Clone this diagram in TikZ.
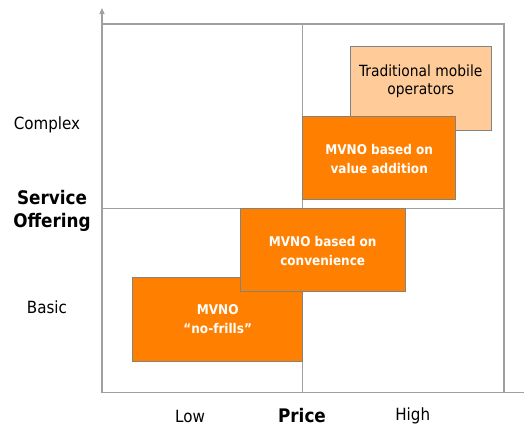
\documentclass[tikz,border=0pt]{standalone}
\usepackage{fontspec}
\setmainfont{DejaVu Sans Condensed}
\usetikzlibrary{arrows.meta}
\definecolor{gridgray}{RGB}{160,160,160}
\definecolor{boxgray}{RGB}{130,130,130}
\definecolor{dark}{RGB}{255,128,0}
\definecolor{light}{RGB}{255,204,153}
\begin{document}
\begin{tikzpicture}[x=1bp,y=-1bp,
  gridline/.style={draw=gridgray,line width=1.3bp},
  seg/.style={draw=boxgray,line width=0.9bp,inner sep=0pt,outer sep=0pt},
  darkbox/.style={seg,fill=dark},
  lightbox/.style={seg,fill=light},
  boxtext/.style={align=center,font=\fontsize{13.4bp}{18.3bp}\selectfont\bfseries},
  axlabel/.style={font=\fontsize{16.8bp}{20bp}\selectfont},
  axtitle/.style={align=center,font=\fontsize{18.7bp}{23bp}\selectfont\bfseries}]
\useasboundingbox (0,0) rectangle (524,427);
% grid
\draw[gridline] (102,24) rectangle (504,392.7);
\draw[gridline] (302.7,24) -- (302.7,392.7);
\draw[gridline] (102,208.7) -- (504,208.7);
\draw[gridline] (504,392.7) -- (530,392.7);
\draw[gridline,-{Triangle[length=6bp,width=5bp]}] (102,392.7) -- (102,8);
% boxes
\path[lightbox] (350,46.7) rectangle (491.7,130);
\node[align=center,text=black,font=\fontsize{15.4bp}{18.3bp}\selectfont] (trad) at (420.8,81) {Traditional mobile\\operators};
\path[darkbox] (302.7,116.7) rectangle (455.7,199.3);
\node[boxtext,text=white] (val) at (379.2,159) {MVNO based on\\value addition};
\path[darkbox] (132.7,277.3) rectangle (302.7,361.7);
\node[boxtext,text=white] (nof) at (217.7,319) {MVNO\\“no-frills”};
\path[darkbox] (240,208.3) rectangle (405.3,291.7);
\node[boxtext,text=white] (conv) at (322.7,251) {MVNO based on\\convenience};
% labels
\node[axlabel] (complex) at (47,125) {Complex};
\node[axlabel] (basic) at (47,307) {Basic};
\node[axtitle] (service) at (52,210.5) {Service\\Offering};
\node[axlabel] (low) at (190,416) {Low};
\node[axlabel] (high) at (412.7,416) {High};
\node[axtitle,inner sep=0pt] (price) at (302,416) {Price};
\end{tikzpicture}
\end{document}
